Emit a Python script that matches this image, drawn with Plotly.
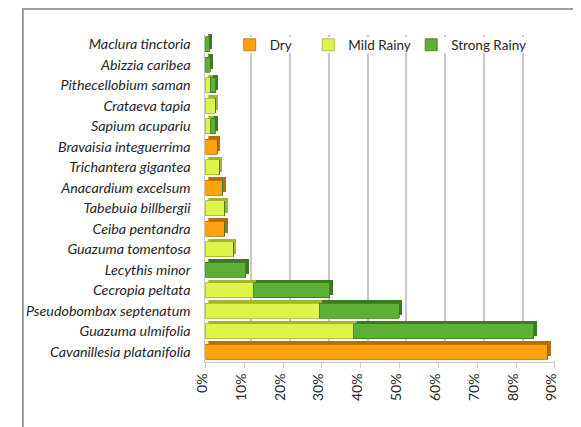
import plotly.graph_objects as go

# species listed top to bottom as in the chart
species = [
    "Maclura tinctoria", "Abizzia caribea", "Pithecellobium saman", "Crataeva tapia",
    "Sapium acupariu", "Bravaisia integuerrima", "Trichantera gigantea",
    "Anacardium excelsum", "Tabebuia billbergii", "Ceiba pentandra",
    "Guazuma tomentosa", "Lecythis minor", "Cecropia peltata",
    "Pseudobombax septenatum", "Guazuma ulmifolia", "Cavanillesia platanifolia",
]
# percentages per season
dry = [0, 0, 0, 0, 0, 3.0, 0, 4.5, 0, 5.0, 0, 0, 0, 0, 0, 88.2]
mild_rainy = [0, 0, 1.3, 2.5, 1.4, 0, 3.5, 0, 5.0, 0, 7.2, 0, 12.4, 29.3, 38.2, 0]
strong_rainy = [1.0, 1.3, 1.3, 0, 1.1, 0, 0, 0, 0, 0, 0, 10.4, 19.6, 20.6, 46.4, 0]

x_ticks = [0, 10, 20, 30, 40, 50, 60, 70, 80, 90]
x_labels = ["0%", "10%", "20%", "30%", "40%", "50%", "60%", "70%", "80%", "90%"]

series = [
    ("Dry", dry, "#FFA20F", "#B86E00", "legend"),
    ("Mild Rainy", mild_rainy, "#DDF44A", "#A3B52C", "legend2"),
    ("Strong Rainy", strong_rainy, "#5DB035", "#3B7A20", "legend3"),
]

W, H = 581, 427
OFF = 8  # page body margin, so window pixel -> figure pixel


def px_x(a, b):
    return [(a - OFF) / W, (b - OFF) / W]


def px_y(top, bottom):
    return [1 - (bottom - OFF) / H, 1 - (top - OFF) / H]


FONT = "Lato, Open Sans, sans-serif"

fig = go.Figure()

# back wall (gridlines only)
fig.add_trace(go.Scatter(x=[0], y=[species[0]], mode="markers",
                         marker=dict(opacity=0), showlegend=False,
                         hoverinfo="skip", xaxis="x", yaxis="y"))

# depth copy of the bars, darker and shifted to fake the 3D sides
for name, vals, face, side, lg in series:
    fig.add_trace(go.Bar(y=species, x=vals, orientation="h", name=name,
                         marker=dict(color=side, line=dict(width=0)),
                         showlegend=False, hoverinfo="skip",
                         xaxis="x2", yaxis="y2"))

# front faces
for name, vals, face, side, lg in series:
    fig.add_trace(go.Bar(y=species, x=vals, orientation="h", name=name,
                         marker=dict(color=face, line=dict(color=side, width=0.8)),
                         legend=lg, xaxis="x3", yaxis="y3"))

cat_axis = dict(type="category", categoryorder="array", categoryarray=species,
                autorange="reversed", showgrid=False, zeroline=False)


def legend_at(x_win):
    return dict(orientation="h", x=(x_win - OFF) / W, xanchor="left",
                y=1 - (45 - OFF) / H, yanchor="middle",
                bgcolor="rgba(0,0,0,0)", borderwidth=0,
                font=dict(size=13.5), itemwidth=30)


fig.update_layout(
    width=W, height=H,
    margin=dict(l=0, r=0, t=0, b=0),
    paper_bgcolor="white", plot_bgcolor="rgba(0,0,0,0)",
    barmode="stack", bargap=0.28,
    font=dict(family=FONT, size=14, color="#262626"),
    xaxis=dict(domain=px_x(206, 566), range=[0, 90], tickvals=x_ticks[1:],
               showticklabels=False, showgrid=True, gridcolor="#C8C8C8",
               gridwidth=1.5, zeroline=False, anchor="y"),
    yaxis=dict(domain=px_y(35, 358), showticklabels=False, anchor="x", **cat_axis),
    xaxis2=dict(domain=px_x(202, 562), range=[0, 90], visible=False, anchor="y2"),
    yaxis2=dict(domain=px_y(31, 359), visible=False, anchor="x2", **cat_axis),
    xaxis3=dict(domain=px_x(199, 559), range=[0, 90], tickvals=x_ticks,
                ticktext=x_labels, tickangle=-90, showgrid=False, zeroline=False,
                showline=True, linecolor="#C8C8C8", ticks="outside", ticklen=5,
                tickcolor="#C8C8C8", tickfont=dict(size=14), ticklabelshift=-3,
                anchor="y3"),
    yaxis3=dict(domain=px_y(34, 362), tickvals=species,
                ticktext=["<i>" + s + "</i>" for s in species],
                showline=True, linecolor="#C8C8C8", ticks="",
                ticklabelstandoff=11, tickfont=dict(size=14.3), anchor="x3",
                **cat_axis),
    legend=legend_at(224),
    legend2=legend_at(305),
    legend3=legend_at(411),
    shapes=[
        # white patch behind the legend hiding the gridlines
        dict(type="rect", xref="paper", yref="paper",
             x0=(238 - OFF) / W, x1=(548 - OFF) / W,
             y0=1 - (53 - OFF) / H, y1=1 - (37 - OFF) / H,
             fillcolor="white", line=dict(width=0), layer="above"),
        dict(type="rect", xref="paper", yref="paper",
             x0=(11 - OFF) / W, x1=1.05, y0=-0.05, y1=1 - 1 / H,
             line=dict(color="#7F7F7F", width=1.5), layer="above"),
    ],
)

fig.write_html("out.html")
